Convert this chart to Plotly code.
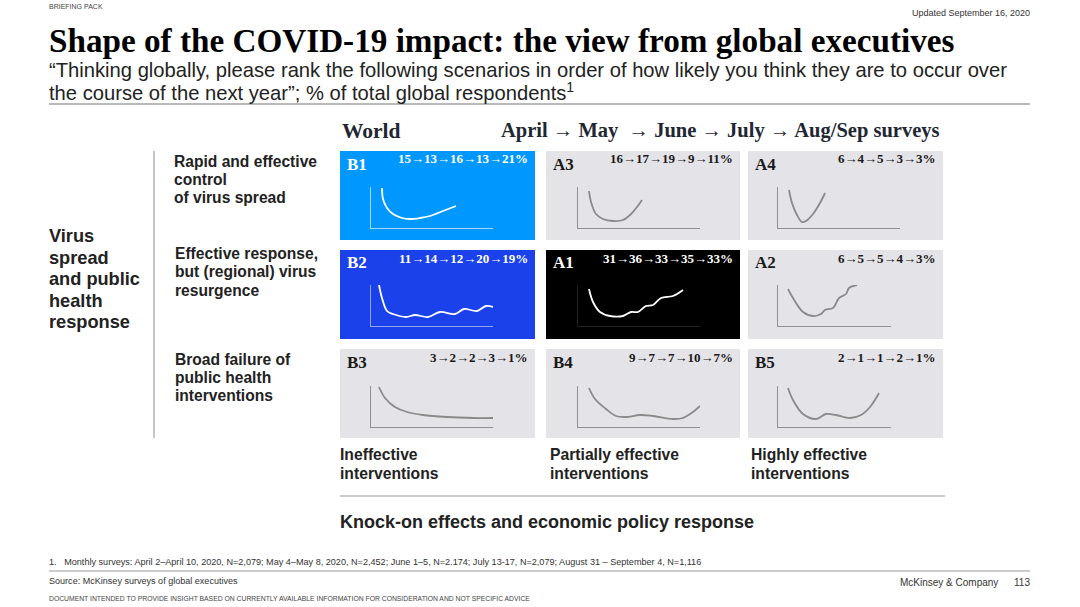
import plotly.graph_objects as go

W = 1080
H = 607
SERIF = "Liberation Serif"
SANS = "Liberation Sans"

# scenario order: row by row, left to right
codes = ["B1", "A3", "A4", "B2", "A1", "A2", "B3", "B4", "B5"]
shares = [
    [15, 13, 16, 13, 21], [16, 17, 19, 9, 11], [6, 4, 5, 3, 3],
    [11, 14, 12, 20, 19], [31, 36, 33, 35, 33], [6, 5, 5, 4, 3],
    [3, 2, 2, 3, 1], [9, 7, 7, 10, 7], [2, 1, 1, 2, 1],
]

# curve shapes, in axis units
curve_x = {
    "B1": [11, 12, 16, 22, 31, 39, 49, 59, 72, 85],
    "A3": [11, 13, 18, 25, 35, 45, 53, 59, 64],
    "A4": [11, 14, 19, 24, 28, 35, 42, 47],
    "B2": [8, 11, 16, 22, 35, 44, 57, 69, 84, 93, 106, 115, 122],
    "A1": [11, 15, 22, 32, 45, 53, 60, 68, 75, 83, 95, 105],
    "A2": [10, 15, 25, 35, 43, 47, 55, 61, 68, 71, 79],
    "B3": [8, 14, 24, 36, 52, 76, 102, 122],
    "B4": [11, 17, 28, 38, 48, 62, 75, 95, 105, 115, 122],
    "B5": [10, 15, 25, 38, 48, 58, 72, 83, 92, 101],
}
curve_y = {
    "B1": [40, 29, 20, 14, 10, 9, 10, 12, 17, 22],
    "A3": [37, 26, 14, 9, 7, 8, 14, 21, 28],
    "A4": [38, 25, 13, 6, 7, 14, 25, 35],
    "B2": [41, 28, 15, 12, 9, 11, 9, 14, 12, 17, 15, 20, 19],
    "A1": [37, 24, 14, 10, 10, 14, 14, 20, 21, 28, 30, 36],
    "A2": [37, 28, 14, 10, 12, 16, 18, 28, 32, 38, 41],
    "B3": [40, 29, 20, 15, 12, 10, 9, 9],
    "B4": [39, 28, 18, 11, 10, 12, 11, 8, 9, 15, 21],
    "B5": [39, 27, 13, 8, 13, 12, 9, 12, 20, 34],
}
axis_len = {"A2": 113, "B5": 113}

row_labels = [
    ["Rapid and effective", "control", "of virus spread"],
    ["Effective response,", "but (regional) virus", "resurgence"],
    ["Broad failure of", "public health", "interventions"],
]
side_label = ["Virus", "spread", "and public", "health", "response"]
col_labels = [
    ["Ineffective", "interventions"],
    ["Partially effective", "interventions"],
    ["Highly effective", "interventions"],
]

title = "Shape of the COVID-19 impact: the view from global executives"
subtitle = [
    "“Thinking globally, please rank the following scenarios in order of how likely you think they are to occur over",
    "the course of the next year”; % of total global respondents<sup>1</sup>",
]
footnote = ("1.   Monthly surveys: April 2–April 10, 2020, N=2,079; May 4–May 8, 2020, N=2,452; June 1–5, N=2.174; "
            "July 13-17, N=2,079; August 31 – September 4, N=1,116")
source = "Source: McKinsey surveys of global executives"
disclaimer = "DOCUMENT INTENDED TO PROVIDE INSIGHT BASED ON CURRENTLY AVAILABLE INFORMATION FOR CONSIDERATION AND NOT SPECIFIC ADVICE"

panel_left = [340, 546, 748]
panel_right = [535, 740, 943]
panel_top = [151, 250, 349]
panel_bottom = [240, 339, 438]
axis_left = [371, 578, 778]
axis_bottom = [228, 326, 427]
axis_height = 41

fills = {"B1": "#0098ff", "B2": "#1b41ea", "A1": "#000000"}
axis_colors = {"B1": "#a5d8f8", "B2": "#8fa3f0", "A1": "#222222"}
GREY_PANEL = "#e4e3e7"


def px(x):
    return x / W


def py(y):
    return 1 - y / H


fig = go.Figure()
shapes = []
annotations = []


def text(x, y, s, size, font=SANS, color="#1a1a1a", bold=False, anchor="left"):
    annotations.append(dict(
        x=px(x), y=py(y), xref="paper", yref="paper", text=f"<b>{s}</b>" if bold else s,
        showarrow=False, xanchor=anchor, yanchor="middle", align=anchor,
        font=dict(family=font, size=size, color=color), borderpad=0, borderwidth=0,
    ))


def rule(x0, y0, x1, y1, color="#8c8c8c", width=1):
    shapes.append(dict(type="line", xref="paper", yref="paper", x0=px(x0), y0=py(y0), x1=px(x1), y1=py(y1),
                       line=dict(color=color, width=width), layer="below"))


axes = {}
for i, code in enumerate(codes):
    r, c = divmod(i, 3)
    n = i + 1
    light = code in fills
    shapes.append(dict(type="rect", xref="paper", yref="paper", layer="below",
                       x0=px(panel_left[c]), x1=px(panel_right[c]), y0=py(panel_top[r]), y1=py(panel_bottom[r]),
                       fillcolor=fills.get(code, GREY_PANEL), line_width=0))

    length = axis_len.get(code, 122)
    line_color = "#ffffff" if light else "#8a8a8a"
    ax_color = axis_colors.get(code, "#8f8f8f")
    fig.add_trace(go.Scatter(x=curve_x[code], y=curve_y[code], mode="lines", xaxis=f"x{n}", yaxis=f"y{n}",
                             line=dict(color=line_color, width=1.8, shape="spline", smoothing=1.0),
                             hoverinfo="skip", showlegend=False))
    common = dict(showgrid=False, zeroline=False, showticklabels=False, ticks="", showline=True,
                  linecolor=ax_color, linewidth=1.2, fixedrange=True)
    axes[f"xaxis{n}"] = dict(common, domain=[px(axis_left[c]), px(axis_left[c] + length)], range=[0, length],
                             anchor=f"y{n}")
    axes[f"yaxis{n}"] = dict(common, domain=[py(axis_bottom[r]), py(axis_bottom[r] - axis_height)],
                             range=[0, axis_height], anchor=f"x{n}")

    label_color = "#ffffff" if light else "#1a1a1a"
    text(panel_left[c] + 7, panel_top[r] + 13, code, 17, SERIF, label_color, True)
    pct = "→".join(str(v) for v in shares[i]) + "%"
    text(panel_right[c] - 7, panel_top[r] + 8, pct, 13, SERIF, label_color, True, "right")

# header
text(49, 6, "BRIEFING PACK", 7, color="#444444")
text(1030, 13, "Updated September 16, 2020", 9, color="#333333", anchor="right")
text(49, 41, title, 33.2, SERIF, "#000000", True)
text(49, 70, subtitle[0], 20.2, color="#222222")
text(49, 92, subtitle[1], 20.2, color="#222222")
rule(49, 104, 1030, 104, "#777777", 1.2)

# heading over the grid
text(342, 131, "World", 21.5, SERIF, "#1f2733", True)
text(501, 130, "April → May  → June → July → Aug/Sep surveys", 20.5, SERIF, "#1f2733", True)

# row labels
for lines, ys, x in zip(row_labels, [[161, 179, 198], [253, 271, 290], [359, 377, 396]], [174, 175, 175]):
    for s, y in zip(lines, ys):
        text(x, y, s, 15.6, color="#222222", bold=True)
for s, y in zip(side_label, [236, 258, 279, 301, 322]):
    text(49, y, s, 18.2, color="#222222", bold=True)
rule(154, 151, 154, 438, "#8c8c8c", 1)

# column labels
for lines, x in zip(col_labels, [340, 550, 751]):
    text(x, 455, lines[0], 15.7, color="#222222", bold=True)
    text(x, 473, lines[1], 15.7, color="#222222", bold=True)
rule(340, 496, 945, 496, "#999999", 1)
text(340, 522, "Knock-on effects and economic policy response", 18, color="#222222", bold=True)

# footer
text(49, 562, footnote, 9.1, color="#333333")
rule(49, 571, 1030, 571, "#999999", 1)
text(49, 581, source, 9.05, color="#333333")
text(998, 582, "McKinsey & Company", 10, color="#333333", anchor="right")
text(1030, 582, "113", 10, color="#333333", anchor="right")
text(49, 598, disclaimer, 6.8, color="#444444")

fig.update_layout(width=W, height=H, margin=dict(l=0, r=0, t=0, b=0), paper_bgcolor="#ffffff",
                  plot_bgcolor="rgba(0,0,0,0)", showlegend=False, shapes=shapes, annotations=annotations, **axes)

fig.write_html("out.html", config={"displayModeBar": False},
               post_script="document.body.style.margin='0';")
